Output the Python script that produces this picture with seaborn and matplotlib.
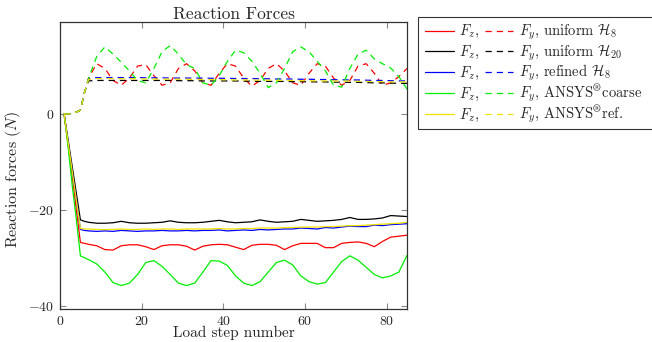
import matplotlib
matplotlib.use("Agg")
import matplotlib.pyplot as plt
import seaborn as sns
import pandas as pd
from matplotlib.legend_handler import HandlerBase
from matplotlib.lines import Line2D
from matplotlib.text import Text

steps = [1, 2, 3, 4, 5, 6, 7, 9, 11, 13, 15, 17, 19, 21, 23, 25, 27, 29, 31, 33, 35, 37, 39,
         41, 43, 45, 47, 49, 51, 53, 55, 57, 59, 61, 63, 65, 67, 69, 71, 73, 75, 77, 79, 81, 83, 85]

# F_z (solid)
fz_uniform_h8 = [0, -6.5, -13, -20, -26.8, -27.0, -27.2, -27.5, -28.3, -28.4, -27.5, -27.3, -27.3, -27.7,
                 -28.3, -27.5, -27.3, -27.3, -27.6, -28.4, -27.6, -27.3, -27.2, -27.3, -27.8, -28.3, -27.4,
                 -27.2, -27.2, -27.4, -28.3, -27.5, -27.0, -27.0, -27.0, -27.9, -27.9, -27.0, -26.8, -26.7,
                 -27.0, -27.7, -26.6, -25.7, -25.5, -25.3]
fz_uniform_h20 = [0, -5.5, -11, -16.5, -22.1, -22.4, -22.6, -22.8, -22.8, -22.7, -22.4, -22.7, -22.8, -22.8,
                  -22.7, -22.6, -22.3, -22.6, -22.7, -22.7, -22.6, -22.4, -22.2, -22.5, -22.7, -22.6, -22.5,
                  -22.1, -22.4, -22.6, -22.5, -22.4, -22.0, -22.2, -22.4, -22.3, -22.2, -22.0, -21.6, -22.0,
                  -22.0, -21.9, -21.7, -21.2, -21.3, -21.4]
fz_refined_h8 = [0, -6, -12, -18, -24.1, -24.3, -24.4, -24.5, -24.4, -24.5, -24.3, -24.4, -24.5, -24.4,
                 -24.4, -24.3, -24.4, -24.4, -24.3, -24.4, -24.3, -24.3, -24.2, -24.4, -24.3, -24.2, -24.3,
                 -24.1, -24.2, -24.1, -24.0, -24.0, -23.8, -23.9, -24.0, -23.7, -23.8, -23.6, -23.4, -23.5,
                 -23.5, -23.2, -23.3, -23.1, -23.0, -22.9]
fz_ansys_coarse = [0, -7, -15, -22, -29.6, -30.0, -30.4, -31.3, -33.0, -35.2, -35.8, -35.3, -33.5, -31.0,
                   -30.6, -31.8, -33.5, -35.3, -35.8, -35.3, -33.0, -30.6, -30.7, -31.6, -33.8, -35.3, -35.8,
                   -35.0, -33.0, -31.0, -30.5, -31.5, -33.8, -35.0, -35.5, -35.2, -33.0, -30.8, -29.6, -30.5,
                   -32.0, -33.5, -34.2, -33.8, -33.0, -29.5]
fz_ansys_ref = [0, -6, -12, -18, -23.9, -24.0, -24.0, -24.1, -24.1, -24.1, -24.0, -24.1, -24.1, -24.0,
                -24.1, -24.0, -24.0, -24.1, -24.0, -24.0, -24.0, -24.0, -23.9, -24.0, -24.0, -23.9, -23.9,
                -23.8, -23.8, -23.8, -23.7, -23.7, -23.6, -23.6, -23.6, -23.5, -23.5, -23.4, -23.3, -23.3,
                -23.2, -23.1, -23.0, -22.9, -22.8, -22.6]

# F_y (dashed)
fy_uniform_h8 = [0, 0, 0.1, 0.4, 0.8, 4.5, 7.5, 10.5, 9.5, 7.0, 6.0, 7.5, 10.0, 10.3, 8.0, 6.0, 6.5, 9.5,
                 10.5, 9.0, 6.5, 6.0, 8.5, 10.5, 10.0, 7.5, 5.8, 7.0, 9.5, 10.5, 9.0, 6.5, 6.0, 8.5, 10.5,
                 10.0, 7.5, 6.0, 7.0, 10.0, 10.5, 8.5, 6.0, 6.5, 7.8, 9.5]
fy_uniform_h20 = [0, 0, 0.1, 0.4, 0.8, 4.5, 6.9, 7.0, 7.0, 7.0, 7.0, 7.0, 7.0, 7.0, 7.0, 7.0, 7.0, 6.95,
                  6.95, 6.95, 6.9, 6.9, 6.9, 6.9, 6.9, 6.85, 6.85, 6.8, 6.8, 6.8, 6.8, 6.75, 6.75, 6.7,
                  6.7, 6.7, 6.65, 6.65, 6.6, 6.6, 6.55, 6.5, 6.5, 6.45, 6.4, 6.4]
fy_refined_h8 = [0, 0, 0.1, 0.4, 0.8, 4.5, 7.4, 7.6, 7.6, 7.6, 7.6, 7.6, 7.6, 7.55, 7.55, 7.55, 7.5, 7.5,
                 7.5, 7.5, 7.5, 7.45, 7.45, 7.45, 7.4, 7.4, 7.4, 7.35, 7.35, 7.3, 7.3, 7.3, 7.25, 7.25,
                 7.2, 7.2, 7.15, 7.15, 7.1, 7.1, 7.05, 7.0, 7.0, 6.95, 6.9, 6.9]
fy_ansys_coarse = [0, 0, 0.1, 0.4, 0.8, 4.5, 7.5, 12.0, 14.0, 12.5, 10.8, 9.0, 7.0, 6.5, 9.5, 13.0, 14.3,
                   12.5, 10.3, 9.5, 6.5, 6.0, 8.0, 11.0, 13.3, 12.8, 11.0, 8.5, 5.5, 6.5, 9.5, 13.0, 14.0,
                   13.0, 11.0, 9.0, 6.0, 5.6, 9.5, 12.5, 13.3, 11.5, 10.5, 9.6, 7.8, 5.2]
fy_ansys_ref = [0, 0, 0.1, 0.4, 0.8, 4.5, 7.2, 7.4, 7.4, 7.4, 7.35, 7.35, 7.35, 7.3, 7.3, 7.3, 7.3, 7.25,
                7.25, 7.2, 7.2, 7.2, 7.15, 7.15, 7.1, 7.1, 7.1, 7.05, 7.05, 7.0, 7.0, 7.0, 6.95, 6.95,
                6.9, 6.9, 6.9, 6.85, 6.85, 6.8, 6.8, 6.75, 6.75, 6.7, 6.7, 6.7]

series_names = [r"$F_y$, uniform $\mathcal{H}_8$",
                r"$F_y$, uniform $\mathcal{H}_{20}$",
                r"$F_y$, refined $\mathcal{H}_8$",
                r"$F_y$, ANSYS$^{\circledR}$coarse",
                r"$F_y$, ANSYS$^{\circledR}$ref."]
colors = ["#ff0000", "#000000", "#0000ff", "#00ee00", "#f2e200"]
fz_all = [fz_uniform_h8, fz_uniform_h20, fz_refined_h8, fz_ansys_coarse, fz_ansys_ref]
fy_all = [fy_uniform_h8, fy_uniform_h20, fy_refined_h8, fy_ansys_coarse, fy_ansys_ref]
x_ticks = [0, 20, 40, 60, 80]
y_ticks = [-40, -20, 0]

DASH = (0, (5, 4))

sns.set_style("ticks")
plt.rcParams["font.family"] = ["cmr10", "DejaVu Serif"]
plt.rcParams["mathtext.fontset"] = "cm"
plt.rcParams["axes.formatter.use_mathtext"] = True
plt.rcParams["axes.unicode_minus"] = True

fig = plt.figure(figsize=(6.52, 3.42), dpi=100)
ax = fig.add_axes([60 / 652, 1 - 309 / 342, 347 / 652, 287 / 342])

fs = 10
leg_fs = 10.5
handle_sets = []
for fz, fy, c, name in zip(fz_all, fy_all, colors, series_names):
    df = pd.DataFrame({"step": steps, "fz": fz, "fy": fy})
    sns.lineplot(data=df, x="step", y="fz", color=c, lw=0.9, ax=ax)
    solid = ax.lines[-1]
    sns.lineplot(data=df, x="step", y="fy", color=c, lw=0.9, ax=ax, linestyle=DASH)
    dashed = ax.lines[-1]
    handle_sets.append((solid, dashed, name))

ax.set_xlim(0, 85)
ax.set_ylim(-40.7, 19.2)
ax.set_xticks(x_ticks)
ax.set_yticks(y_ticks)
ax.tick_params(direction="in", length=4, width=0.8, color="#888888", top=True, right=True,
               labelsize=fs, pad=4)
for s in ax.spines.values():
    s.set_linewidth(0.9)
    s.set_color("#333333")
ax.set_title("Reaction Forces", fontsize=12.5, pad=2)
ax.set_xlabel("Load step number", fontsize=11, labelpad=-1)
ax.set_ylabel(r"Reaction forces $(N)$", fontsize=11.5)
ax.yaxis.set_label_coords(-0.108, 0.45)

ENTRY_W = 220.0  # reference pixels covered by one legend entry


class EntryHandler(HandlerBase):
    def create_artists(self, legend, orig_handle, xdescent, ydescent, width, height,
                       fontsize, trans):
        solid, dashed, name = orig_handle
        c = solid.get_color()
        y = 0.5 * height - ydescent
        px = width / ENTRY_W
        x0 = -xdescent
        l1 = Line2D([x0, x0 + 29 * px], [y, y], color=c, lw=0.9, transform=trans)
        t1 = Text(x0 + 34 * px, y - 0.32 * fontsize, r"$F_z$,", fontsize=fontsize,
                  ha="left", va="baseline", transform=trans)
        l2 = Line2D([x0 + 60 * px, x0 + 88 * px], [y, y], color=c, lw=0.9,
                    linestyle=DASH, transform=trans)
        t2 = Text(x0 + 94 * px, y - 0.32 * fontsize, name, fontsize=fontsize,
                  ha="left", va="baseline", transform=trans)
        return [l1, t1, l2, t2]


leg = fig.legend(handle_sets, [""] * len(handle_sets), loc="upper left",
                 bbox_to_anchor=(418 / 652, 1 - 17 / 342), bbox_transform=fig.transFigure,
                 borderaxespad=0, fontsize=leg_fs, handlelength=ENTRY_W * 0.72 / leg_fs,
                 handleheight=0.95, handletextpad=0.0,
                 labelspacing=0.45, fancybox=False, frameon=True, borderpad=0.5,
                 handler_map={tuple: EntryHandler()})
leg.get_frame().set_edgecolor("black")
leg.get_frame().set_linewidth(0.8)

fig.savefig("out.png", dpi=100)
